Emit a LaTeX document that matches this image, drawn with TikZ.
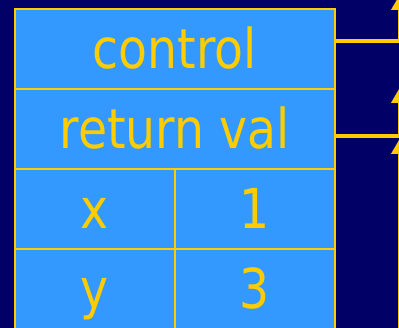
\documentclass[tikz,border=0pt]{standalone}
\usepackage{fontspec}
\setmainfont{DejaVu Sans}[FakeStretch=0.86]
\usetikzlibrary{arrows.meta, positioning}
\definecolor{navy}{HTML}{000066}
\definecolor{cellblue}{HTML}{3399FF}
\definecolor{gold}{HTML}{FFCC00}

\begin{document}
\begin{tikzpicture}[
    x=1pt, y=-1pt,
    cell/.style={rectangle, draw=gold, line width=2pt, fill=cellblue,
                 text=gold, inner sep=0pt, outer sep=0pt,
                 minimum width=320pt, minimum height=80pt,
                 text height=40pt, text depth=0pt,
                 font=\fontsize{55pt}{60pt}\selectfont},
    half/.style={cell, minimum width=160pt},
    link/.style={draw=gold, line width=4pt,
                 -{Triangle[length=15pt, width=16pt]}},
  ]
    \useasboundingbox (0,0) rectangle (399,328);
    \fill[navy] (0,0) rectangle (399,328);
    \clip (0,0) rectangle (399,328);

    % stack frame
    \node[cell] (ctrl) at (174.5,49) {control};
    \node[cell, below=0pt of ctrl] (retval) {return val};
    \node[half, anchor=north west] (xname) at (retval.south west) {x};
    \node[half, right=0pt of xname] (xval) {1};
    \node[half, below=0pt of xname] (yname) {y};
    \node[half, right=0pt of yname] (yval) {3};

    % links leaving on the right
    \coordinate (topA) at (399.5,-5);
    \coordinate (topB) at (399.5,88);
    \coordinate (topC) at (399.5,139);
    \coordinate (footC) at (399.5,340);
    \draw[link] ([yshift=8pt]ctrl.east) -| (topA);
    \draw[link] ([yshift=-7pt]retval.east) -| (topB);
    \draw[link] (footC) -- (topC);
  \end{tikzpicture}
\end{document}
